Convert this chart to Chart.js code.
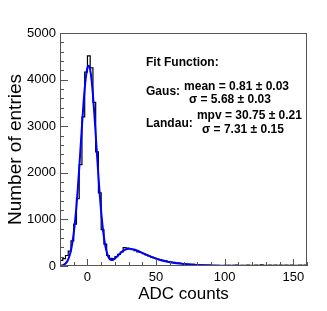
<!DOCTYPE html>
<html>
<head>
<meta charset="utf-8">
<script src="https://cdn.jsdelivr.net/npm/chart.js@4"></script>
<style>
  html, body { margin: 0; padding: 0; background: #fff; }
  #wrap { width: 327px; height: 311px; }
</style>
</head>
<body>
<div id="wrap"><canvas id="hist"></canvas></div>
<script>
// histogram bin edges (ADC counts), 2 counts per bin
const binEdges = [
  -20, -18, -16, -14, -12, -10, -8, -6, -4, -2,
  0, 2, 4, 6, 8, 10, 12, 14, 16, 18,
  20, 22, 24, 26, 28, 30, 32, 34, 36, 38,
  40, 42, 44, 46, 48, 50, 52, 54, 56, 58,
  60, 62, 64, 66, 68, 70, 72, 74, 76, 78,
  80, 82, 84, 86, 88, 90, 92, 94, 96, 98,
  100, 102, 104, 106, 108, 110, 112, 114, 116, 118,
  120, 122, 124, 126, 128, 130, 132, 134, 136, 138,
  140, 142, 144, 146, 148, 150, 152, 154, 156, 158,
  160
];

// entries per bin
const counts = [
  120, 157, 225, 320, 540, 900, 1445, 2175, 3200, 4160,
  4510, 4250, 3510, 2450, 1570, 780, 470, 225, 165, 160,
  200, 250, 300, 395, 385, 372, 350, 330, 305, 290,
  265, 240, 215, 192, 172, 150, 138, 122, 108, 96,
  85, 76, 68, 60, 54, 48, 43, 38, 34, 30,
  27, 24, 21, 19, 17, 15, 14, 12, 11, 10,
  12, 15, 10, 14, 18, 11, 16, 13, 20, 15,
  12, 17, 14, 22, 16, 13, 18, 15, 20, 14,
  17, 12, 19, 16, 21, 15, 13, 18, 16, 20
];

// fit function (gaus + landau) sampled
const fitX = [
  -20, -19, -18, -17, -16, -15, -14, -13, -12, -11,
  -10, -9, -8, -7, -6, -5, -4, -3, -2, -1,
  0, 1, 2, 3, 4, 5, 6, 7, 8, 9,
  10, 11, 12, 13, 14, 15, 16, 17, 18, 19,
  20, 21, 22, 23, 24, 25, 26, 27, 28, 29,
  30, 31, 32, 33, 34, 35, 36, 37, 38, 39,
  40, 42, 44, 46, 48, 50, 52, 55, 60, 65,
  70, 75, 80, 85, 90, 95, 100, 110, 120, 130,
  140, 150, 160
];
const fitY = [
  5, 10, 18, 32, 54, 89, 144, 224, 338, 495,
  703, 968, 1291, 1671, 2095, 2548, 3004, 3434, 3805, 4087,
  4257, 4298, 4207, 3992, 3673, 3276, 2832, 2374, 1930, 1520,
  1162, 862, 620, 437, 304, 214, 159, 133, 128, 137,
  159, 186, 216, 247, 276, 302, 324, 342, 356, 364,
  369, 370, 367, 362, 354, 345, 334, 322, 309, 295,
  282, 254, 227, 202, 179, 158, 139, 114, 81, 58,
  42, 30, 21, 15, 11, 8, 6, 3, 2, 1,
  1, 0, 0
];

const fitText = [
  { text: 'Fit Function:', x: 42.7, y: 4356 },
  { text: 'Gaus:', x: 42.7, y: 3734 },
  { text: 'mean = 0.81 \u00b1 0.03', x: 70.4, y: 3841 },
  { text: '\u03c3 = 5.68 \u00b1 0.03', x: 74.0, y: 3562 },
  { text: 'Landau:', x: 42.7, y: 3047 },
  { text: 'mpv = 30.75 \u00b1 0.21', x: 79.8, y: 3219 },
  { text: '\u03c3 = 7.31 \u00b1 0.15', x: 83.5, y: 2918 }
];

const FONT = "'Liberation Sans', Arial, Helvetica, sans-serif";

const histPoints = binEdges.map((x, i) => ({ x: x, y: counts[Math.min(i, counts.length - 1)] }));
const fitPoints = fitX.map((x, i) => ({ x: x, y: fitY[i] }));

// ROOT style: frame + ticks pointing inwards, fit box text
const rootFrame = {
  id: 'rootFrame',
  afterDatasetsDraw(chart) {
    const { ctx, chartArea: a, scales } = chart;
    ctx.save();
    ctx.strokeStyle = '#555';
    ctx.lineWidth = 1;
    ctx.beginPath();
    scales.x.ticks.forEach(t => {
      const px = Math.round(scales.x.getPixelForValue(t.value)) + 0.5;
      const len = t.value % 50 === 0 ? 7 : 4;
      ctx.moveTo(px, a.bottom);
      ctx.lineTo(px, a.bottom - len);
    });
    scales.y.ticks.forEach(t => {
      const py = Math.round(scales.y.getPixelForValue(t.value)) + 0.5;
      const len = t.value % 1000 === 0 ? 8 : 4;
      ctx.moveTo(a.left, py);
      ctx.lineTo(a.left + len, py);
    });
    ctx.stroke();
    ctx.strokeRect(a.left + 0.5, a.top + 0.5, a.right - a.left - 1, a.bottom - a.top - 1);

    ctx.fillStyle = '#000';
    ctx.font = 'bold 12px ' + FONT;
    ctx.textAlign = 'left';
    ctx.textBaseline = 'middle';
    fitText.forEach(t => {
      ctx.fillText(t.text, scales.x.getPixelForValue(t.x), scales.y.getPixelForValue(t.y));
    });
    ctx.restore();
  }
};

const ctx = document.getElementById('hist');

new Chart(ctx, {
  type: 'line',
  data: {
    datasets: [
      {
        label: 'fit',
        data: fitPoints,
        borderColor: '#0000ff',
        borderWidth: 2,
        cubicInterpolationMode: 'monotone',
        pointRadius: 0,
        fill: false,
        order: 0,
      },
      {
        label: 'entries',
        data: histPoints,
        borderColor: '#000',
        borderWidth: 1.2,
        stepped: 'before',
        pointRadius: 0,
        fill: false,
        order: 1,
      },
    ],
  },
  options: {
    responsive: true,
    maintainAspectRatio: false,
    animation: false,
    layout: { padding: { top: 33, right: 20, left: 0, bottom: 0 } },
    plugins: {
      legend: { display: false },
      tooltip: { enabled: false },
    },
    scales: {
      x: {
        type: 'linear',
        min: -20,
        max: 160,
        grid: { display: false, drawTicks: false, tickLength: 0 },
        border: { display: false },
        ticks: {
          stepSize: 10,
          autoSkip: false,
          maxRotation: 0,
          padding: 4,
          color: '#000',
          font: { family: FONT, size: 13 },
          callback: v => (v % 50 === 0 ? String(v) : ''),
        },
        title: {
          display: true,
          text: 'ADC counts',
          color: '#000',
          font: { family: FONT, size: 17 },
          padding: { top: 0, bottom: 6 },
        },
        afterFit: s => { s.height = 45; },
      },
      y: {
        min: 0,
        max: 5000,
        grid: { display: false, drawTicks: false, tickLength: 0 },
        border: { display: false },
        ticks: {
          stepSize: 200,
          autoSkip: false,
          padding: 4,
          color: '#000',
          font: { family: FONT, size: 13 },
          callback: v => (v % 1000 === 0 ? String(v) : ''),
        },
        title: {
          display: true,
          text: 'Number of entries',
          color: '#000',
          font: { family: FONT, size: 19 },
          padding: { top: 4, bottom: 0 },
        },
        afterFit: s => { s.width = 60; },
      },
    },
  },
  plugins: [rootFrame],
});
</script>
</body>
</html>
